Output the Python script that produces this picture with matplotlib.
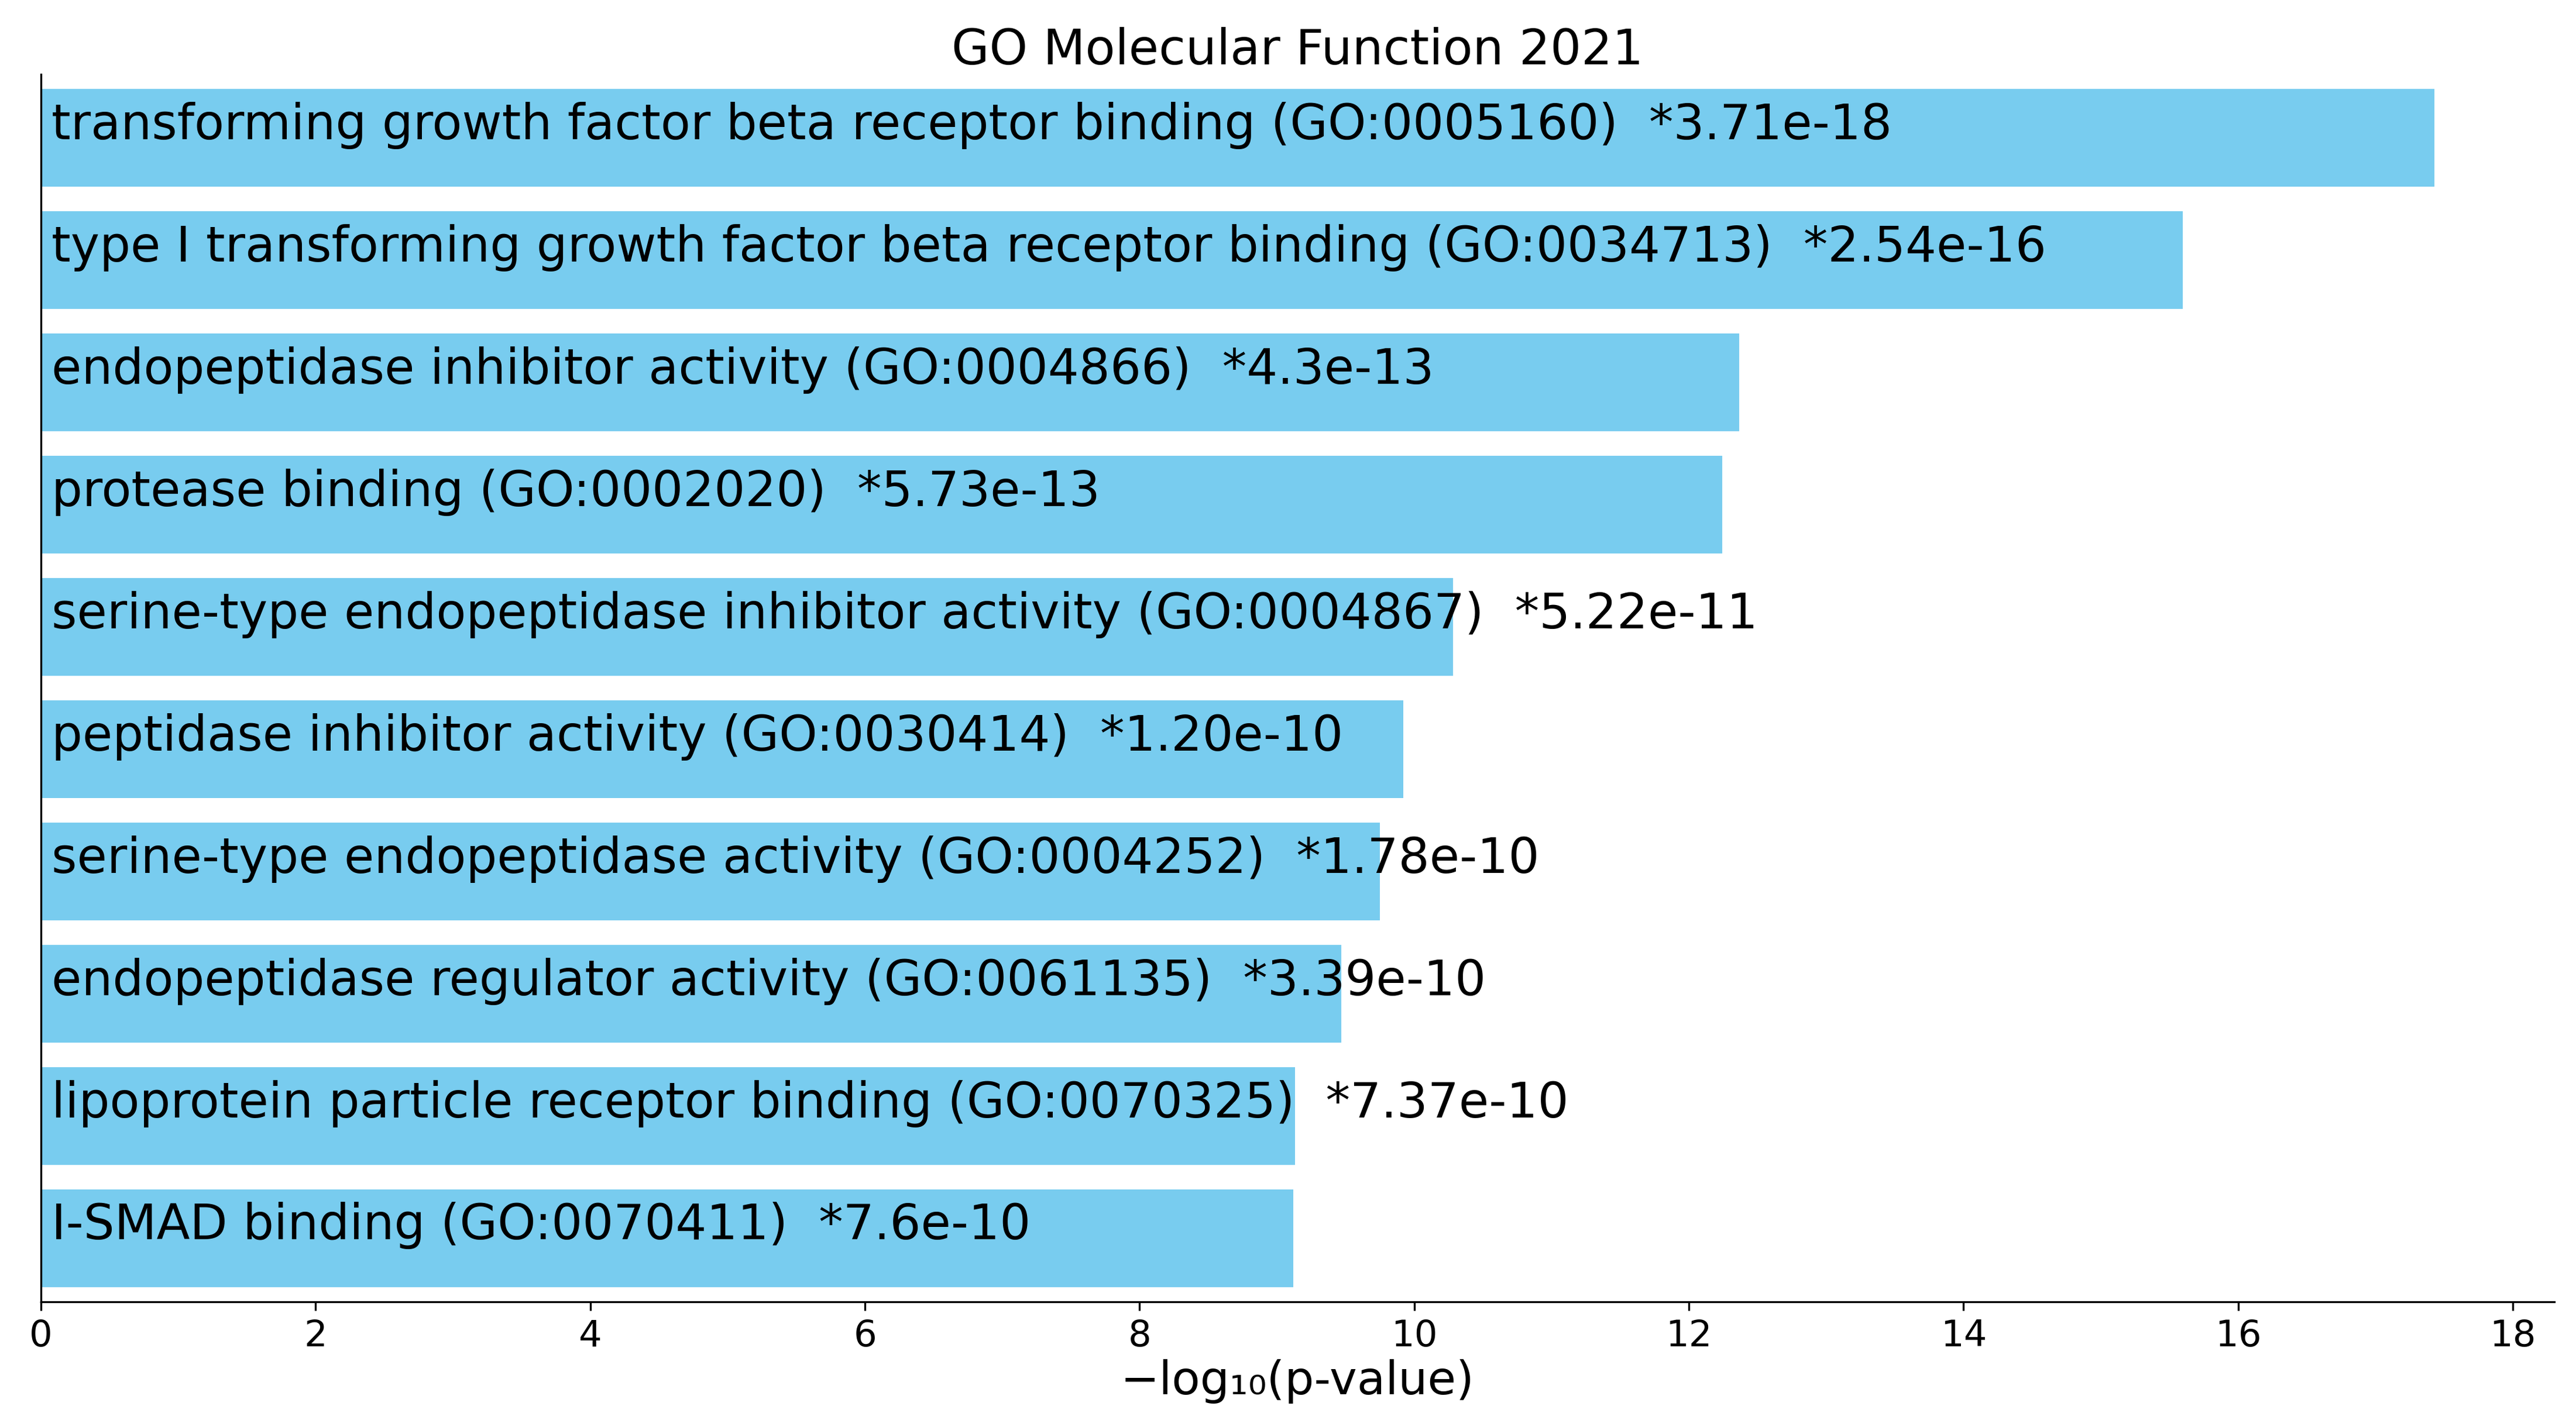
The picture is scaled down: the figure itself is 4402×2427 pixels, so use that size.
import matplotlib
matplotlib.use("Agg")
import matplotlib.pyplot as plt
import numpy as np

terms = [
    "transforming growth factor beta receptor binding (GO:0005160)",
    "type I transforming growth factor beta receptor binding (GO:0034713)",
    "endopeptidase inhibitor activity (GO:0004866)",
    "protease binding (GO:0002020)",
    "serine-type endopeptidase inhibitor activity (GO:0004867)",
    "peptidase inhibitor activity (GO:0030414)",
    "serine-type endopeptidase activity (GO:0004252)",
    "endopeptidase regulator activity (GO:0061135)",
    "lipoprotein particle receptor binding (GO:0070325)",
    "I-SMAD binding (GO:0070411)",
]
pvalue_labels = ["3.71e-18", "2.54e-16", "4.3e-13", "5.73e-13", "5.22e-11",
                 "1.20e-10", "1.78e-10", "3.39e-10", "7.37e-10", "7.6e-10"]
pvalues = [3.71e-18, 2.54e-16, 4.3e-13, 5.73e-13, 5.22e-11,
           1.20e-10, 1.78e-10, 3.39e-10, 7.37e-10, 7.6e-10]

scores = -np.log10(np.array(pvalues))
ypos = np.arange(len(terms))

fig = plt.figure(figsize=(4402 / 300, 2427 / 300), dpi=300)
ax = fig.add_axes([0.0159, 0.0832, 0.9916 - 0.0159, 0.9477 - 0.0832])

ax.barh(ypos, scores, height=0.8, color="#78CCEF", align="center")
for y, term, pl in zip(ypos, terms, pvalue_labels):
    ax.text(0.075, y + 0.01, f"{term}  *{pl}", fontsize=20, va="baseline",
            ha="left", color="black")

ax.set_ylim(len(terms) - 0.48, -0.52)
ax.set_xlim(0, scores.max() * 1.05)
ax.set_yticks([])
ax.set_xticks(np.arange(0, 19, 2))
ax.tick_params(axis="x", labelsize=15)
ax.spines["top"].set_visible(False)
ax.spines["right"].set_visible(False)
ax.set_xlabel("\u2212log\u2081\u2080(p-value)", fontsize=19, labelpad=2)
ax.set_title("GO Molecular Function 2021", fontsize=20, pad=4)

fig.savefig("out.png", dpi=300)
